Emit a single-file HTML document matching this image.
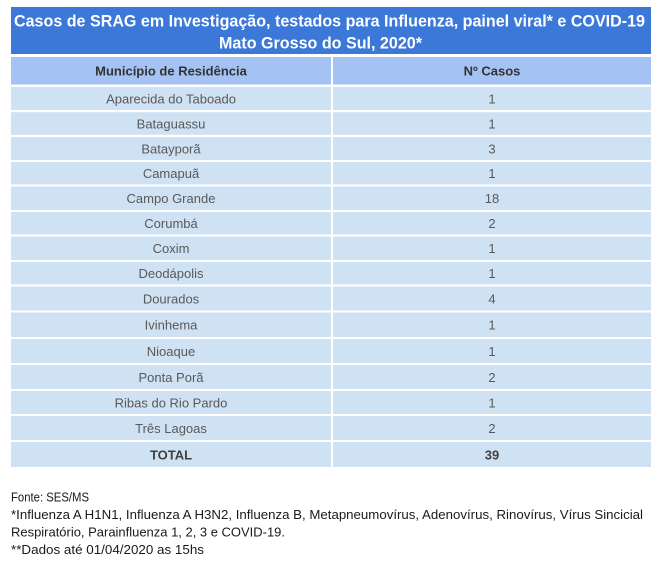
<!DOCTYPE html>
<html>
<head>
<meta charset="utf-8">
<style>
  html,body{margin:0;padding:0;background:#fff;}
  svg{display:block;}
  text{font-family:"Liberation Sans", Arial, sans-serif;}
</style>
</head>
<body>
<svg width="658" height="570" viewBox="0 0 658 570" xmlns="http://www.w3.org/2000/svg">
  <rect x="0" y="0" width="658" height="570" fill="#ffffff"/>
  <!-- Title band -->
  <rect x="11" y="7" width="640" height="47" fill="#3c78d8"/>
  <text x="14" y="26.7" font-size="16.5" font-weight="bold" fill="#ffffff" textLength="631" lengthAdjust="spacingAndGlyphs">Casos de SRAG em Investigação, testados para Influenza, painel viral* e COVID-19</text>
  <text x="219" y="48.5" font-size="16.5" font-weight="bold" fill="#ffffff" textLength="203" lengthAdjust="spacingAndGlyphs">Mato Grosso do Sul, 2020*</text>

  <!-- Header -->
  <rect x="11" y="57" width="320" height="27.5" fill="#a4c2f4"/>
  <rect x="333" y="57" width="318" height="27.5" fill="#a4c2f4"/>
  <text x="171" y="75.5" font-size="13" font-weight="bold" fill="#333333" text-anchor="middle">Município de Residência</text>
  <text x="492" y="75.5" font-size="13" font-weight="bold" fill="#333333" text-anchor="middle">Nº Casos</text>

  <!-- Rows -->
  <g fill="#cfe2f3">
    <rect x="11" y="87" width="320" height="23"/><rect x="333" y="87" width="318" height="23"/>
    <rect x="11" y="112.2" width="320" height="22.6"/><rect x="333" y="112.2" width="318" height="22.6"/>
    <rect x="11" y="137" width="320" height="23"/><rect x="333" y="137" width="318" height="23"/>
    <rect x="11" y="162" width="320" height="22.5"/><rect x="333" y="162" width="318" height="22.5"/>
    <rect x="11" y="186.5" width="320" height="23.5"/><rect x="333" y="186.5" width="318" height="23.5"/>
    <rect x="11" y="212" width="320" height="22.5"/><rect x="333" y="212" width="318" height="22.5"/>
    <rect x="11" y="236.5" width="320" height="23.5"/><rect x="333" y="236.5" width="318" height="23.5"/>
    <rect x="11" y="262" width="320" height="22.5"/><rect x="333" y="262" width="318" height="22.5"/>
    <rect x="11" y="286.5" width="320" height="24"/><rect x="333" y="286.5" width="318" height="24"/>
    <rect x="11" y="312.5" width="320" height="24.5"/><rect x="333" y="312.5" width="318" height="24.5"/>
    <rect x="11" y="339" width="320" height="24"/><rect x="333" y="339" width="318" height="24"/>
    <rect x="11" y="365" width="320" height="24"/><rect x="333" y="365" width="318" height="24"/>
    <rect x="11" y="391" width="320" height="23"/><rect x="333" y="391" width="318" height="23"/>
    <rect x="11" y="416" width="320" height="24"/><rect x="333" y="416" width="318" height="24"/>
    <rect x="11" y="442" width="320" height="25"/><rect x="333" y="442" width="318" height="25"/>
  </g>

  <g font-size="13" fill="#595959" text-anchor="middle">
    <text x="171" y="103.3">Aparecida do Taboado</text><text x="492" y="103.3">1</text>
    <text x="171" y="128.3">Bataguassu</text><text x="492" y="128.3">1</text>
    <text x="171" y="153.3">Batayporã</text><text x="492" y="153.3">3</text>
    <text x="171" y="178">Camapuã</text><text x="492" y="178">1</text>
    <text x="171" y="203.1">Campo Grande</text><text x="492" y="203.1">18</text>
    <text x="171" y="228">Corumbá</text><text x="492" y="228">2</text>
    <text x="171" y="253.1">Coxim</text><text x="492" y="253.1">1</text>
    <text x="171" y="278">Deodápolis</text><text x="492" y="278">1</text>
    <text x="171" y="303.3">Dourados</text><text x="492" y="303.3">4</text>
    <text x="171" y="329.5">Ivinhema</text><text x="492" y="329.5">1</text>
    <text x="171" y="355.8">Nioaque</text><text x="492" y="355.8">1</text>
    <text x="171" y="381.8">Ponta Porã</text><text x="492" y="381.8">2</text>
    <text x="171" y="407.3">Ribas do Rio Pardo</text><text x="492" y="407.3">1</text>
    <text x="171" y="432.8">Três Lagoas</text><text x="492" y="432.8">2</text>
  </g>
  <g font-size="13" font-weight="bold" fill="#404040" text-anchor="middle">
    <text x="171" y="459.3">TOTAL</text><text x="492" y="459.3">39</text>
  </g>

  <!-- Footer -->
  <g font-size="12.5" fill="#1a1a1a">
    <text x="11" y="501.7" textLength="78" lengthAdjust="spacingAndGlyphs">Fonte: SES/MS</text>
    <text x="11" y="519" textLength="632" lengthAdjust="spacingAndGlyphs">*Influenza A H1N1, Influenza A H3N2, Influenza B, Metapneumovírus, Adenovírus, Rinovírus, Vírus Sincicial</text>
    <text x="11" y="536.7" textLength="274" lengthAdjust="spacingAndGlyphs">Respiratório, Parainfluenza 1, 2, 3 e COVID-19.</text>
    <text x="11" y="554" textLength="193" lengthAdjust="spacingAndGlyphs">**Dados até 01/04/2020 as 15hs</text>
  </g>
</svg>
</body>
</html>
